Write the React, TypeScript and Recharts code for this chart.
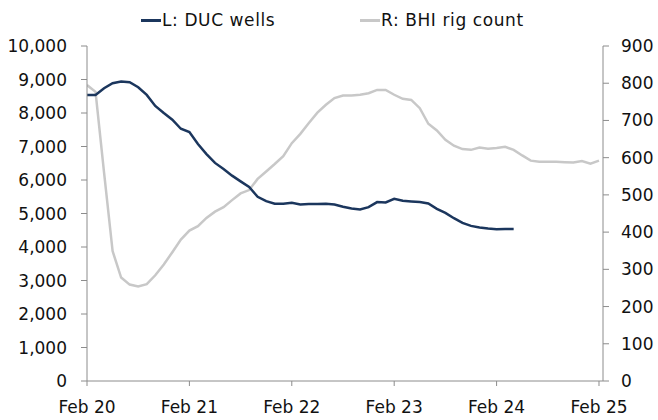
import { LineChart, Line, XAxis, YAxis } from 'recharts';

// monthly observations, month 0 = Feb 2020
const ducWells = [
  8540, 8540, 8740, 8890, 8940, 8920, 8770, 8540, 8210, 8000,
  7800, 7530, 7430, 7075, 6775, 6510, 6330, 6130, 5960, 5790,
  5500, 5370, 5290, 5290, 5320, 5270, 5280, 5280, 5290, 5270,
  5200, 5150, 5120, 5190, 5340, 5330, 5440, 5380, 5360, 5340,
  5300, 5140, 5020, 4860, 4720, 4630, 4580, 4550, 4530, 4540,
  4540,
];

const rigCount = [
  795, 777, 560, 349, 278, 259, 254, 260, 284, 313,
  346, 380, 404, 416, 438, 455, 467, 486, 504, 513,
  543, 563, 583, 604, 639, 664, 693, 721, 742, 760,
  767, 767, 769, 773, 782, 782, 769, 758, 755, 733,
  691, 673, 648, 632, 623, 621, 627, 624, 626, 629,
  621, 606, 592, 589, 589, 589, 588, 587, 591, 584,
  592,
];

const tickMonths = [0, 12, 24, 36, 48, 60];
const tickLabels = ['Feb 20', 'Feb 21', 'Feb 22', 'Feb 23', 'Feb 24', 'Feb 25'];

const leftTicks = [0, 1000, 2000, 3000, 4000, 5000, 6000, 7000, 8000, 9000, 10000];
const rightTicks = [0, 100, 200, 300, 400, 500, 600, 700, 800, 900];

const NAVY = '#1b365d';
const GREY = '#c8c8c8';
const AXIS = '#8c8c8c';
const FONT = '"DejaVu Sans", sans-serif';

const data = rigCount.map((rig, m) => ({
  m,
  rig,
  duc: m < ducWells.length ? ducWells[m] : undefined,
}));

const tickStyle = { fill: '#111', fontSize: 17, fontFamily: FONT };

function ChartLegend() {
  const item = (left: number, color: string, label: string) => (
    <div
      style={{
        position: 'absolute',
        left,
        top: 0,
        height: 24,
        display: 'flex',
        alignItems: 'center',
        whiteSpace: 'nowrap',
      }}
    >
      <span style={{ display: 'inline-block', width: 20, height: 3, background: color }} />
      <span style={{ marginLeft: 1, fontSize: 17, fontFamily: FONT, color: '#111', letterSpacing: 0.6 }}>
        {label}
      </span>
    </div>
  );
  return (
    <div style={{ position: 'absolute', left: 0, top: 8, width: 658, height: 24 }}>
      {item(141, NAVY, 'L: DUC wells')}
      {item(360, GREY, 'R: BHI rig count')}
    </div>
  );
}

export default function App() {
  return (
    <div style={{ position: 'absolute', left: 0, top: 0, width: 658, height: 420, background: '#fff' }}>
      <LineChart
        width={658}
        height={420}
        data={data}
        margin={{ top: 46, right: 0, bottom: 0, left: 0 }}
      >
        <XAxis
          dataKey="m"
          type="number"
          domain={[0, 60.47]}
          ticks={tickMonths}
          tickFormatter={(v: number) => tickLabels[tickMonths.indexOf(v)]}
          height={39}
          tickSize={5}
          tickMargin={15}
          stroke={AXIS}
          tick={tickStyle}
          interval={0}
          allowDataOverflow
        />
        <YAxis
          yAxisId="left"
          domain={[0, 10000]}
          ticks={leftTicks}
          tickFormatter={(v: number) => v.toLocaleString('en-US')}
          width={87}
          tickSize={6}
          tickMargin={14}
          stroke={AXIS}
          tick={tickStyle}
          interval={0}
        />
        <YAxis
          yAxisId="right"
          orientation="right"
          domain={[0, 900]}
          ticks={rightTicks}
          width={55}
          tickSize={6}
          tickMargin={12}
          stroke={AXIS}
          tick={tickStyle}
          interval={0}
        />
        <Line
          yAxisId="right"
          dataKey="rig"
          stroke={GREY}
          strokeWidth={2.5}
          dot={false}
          isAnimationActive={false}
        />
        <Line
          yAxisId="left"
          dataKey="duc"
          stroke={NAVY}
          strokeWidth={2.5}
          dot={false}
          isAnimationActive={false}
        />
      </LineChart>
      <ChartLegend />
    </div>
  );
}
